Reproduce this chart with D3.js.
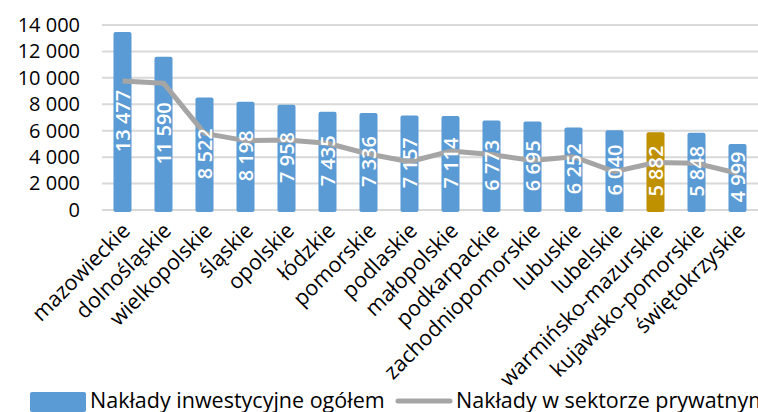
<!DOCTYPE html>
<html>
<head>
<meta charset="utf-8">
<script src="https://cdn.jsdelivr.net/npm/d3@7"></script>
<style>
  body { margin: 0; background: #fff; overflow: hidden; }
  text { font-family: "Open Sans", sans-serif; }
</style>
</head>
<body>
<div id="chart"></div>
<script>
// Voivodeships, sorted by total investment outlays
var regions = ["mazowieckie", "dolnośląskie", "wielkopolskie", "śląskie", "opolskie", "łódzkie",
  "pomorskie", "podlaskie", "małopolskie", "podkarpackie", "zachodniopomorskie", "lubuskie",
  "lubelskie", "warmińsko-mazurskie", "kujawsko-pomorskie", "świętokrzyskie"];
var totalOutlays = [13477, 11590, 8522, 8198, 7958, 7435, 7336, 7157, 7114, 6773, 6695, 6252,
  6040, 5882, 5848, 4999];
var privateOutlays = [9760, 9600, 5800, 5250, 5300, 5050, 4240, 3650, 4460, 4200, 3740, 4030,
  2900, 3590, 3530, 2780];
var yTicks = [0, 2000, 4000, 6000, 8000, 10000, 12000, 14000];
var highlighted = "warmińsko-mazurskie";
var seriesNames = ["Nakłady inwestycyjne ogółem", "Nakłady w sektorze prywatnym"];

var svgWidth = 758;
var svgHeight = 412;

var svg = d3.select("#chart")
  .append("svg")
  .attr("width", svgWidth)
  .attr("height", svgHeight);

var pl = d3.formatLocale({ decimal: ",", thousands: "\u00a0", grouping: [3], currency: ["", " zł"] });
var fmt = pl.format(",d");

var xScale = d3.scaleBand().domain(regions).range([102, 758]).paddingInner(0.56).paddingOuter(0.28);
var yScale = d3.scaleLinear().domain([0, 14000]).range([210, 25]);

// Gridlines
svg.append("g")
  .selectAll("line")
  .data(yTicks)
  .enter()
  .append("line")
  .attr("x1", 102)
  .attr("x2", 758)
  .attr("y1", function(d) { return yScale(d); })
  .attr("y2", function(d) { return yScale(d); })
  .attr("stroke", "#d9d9d9")
  .attr("stroke-width", 2);

// Y axis labels
var leftAxis = d3.axisLeft(yScale).tickValues(yTicks).tickFormat(fmt).tickSize(0).tickPadding(0);
var yAxis = svg.append("g").attr("transform", "translate(80,0)").call(leftAxis);
yAxis.select(".domain").remove();
yAxis.selectAll("text")
  .attr("font-size", "20px")
  .attr("fill", "#000")
  .style("font-family", "'Open Sans', sans-serif");

// Bars
svg.append("g")
  .selectAll("rect")
  .data(regions)
  .enter()
  .append("rect")
  .attr("x", function(d) { return xScale(d); })
  .attr("y", function(d, i) { return yScale(totalOutlays[i]); })
  .attr("width", xScale.bandwidth())
  .attr("height", function(d, i) { return yScale(0) - yScale(totalOutlays[i]) + 2; })
  .attr("rx", 2)
  .attr("fill", function(d) { return d === highlighted ? "#bf9000" : "#5b9bd5"; });

// Private sector line
var line = d3.line()
  .x(function(d, i) { return xScale(regions[i]) + xScale.bandwidth() / 2; })
  .y(function(d) { return yScale(d); });

svg.append("path")
  .datum(privateOutlays)
  .attr("d", line)
  .attr("fill", "none")
  .attr("stroke", "#a5a5a5")
  .attr("stroke-width", 5)
  .attr("stroke-linejoin", "round");

// Bar value labels
svg.append("g")
  .selectAll("text")
  .data(regions)
  .enter()
  .append("text")
  .attr("transform", function(d, i) {
    var cx = xScale(d) + xScale.bandwidth() / 2;
    var cy = (yScale(totalOutlays[i]) + yScale(0)) / 2;
    return "translate(" + cx + "," + cy + ") rotate(-90)";
  })
  .attr("text-anchor", "middle")
  .attr("dy", "0.35em")
  .attr("font-size", "20px")
  .attr("font-weight", 600)
  .attr("fill", "#fff")
  .text(function(d, i) { return fmt(totalOutlays[i]); });

// Category labels
svg.append("g")
  .selectAll("text")
  .data(regions)
  .enter()
  .append("text")
  .attr("transform", function(d) {
    var cx = xScale(d) + xScale.bandwidth() / 2 + 9;
    return "translate(" + cx + ",232) rotate(-45)";
  })
  .attr("text-anchor", "end")
  .attr("font-size", "21.5px")
  .attr("fill", "#000")
  .text(function(d) { return d; });

// Legend
var legend = svg.append("g");
legend.append("rect")
  .attr("x", 30).attr("y", 392).attr("width", 56).attr("height", 20)
  .attr("rx", 2)
  .attr("fill", "#5b9bd5");
legend.append("text")
  .attr("x", 90).attr("y", 408)
  .attr("font-size", "21.5px")
  .attr("fill", "#000")
  .text(seriesNames[0]);
legend.append("line")
  .attr("x1", 398).attr("x2", 450).attr("y1", 401).attr("y2", 401)
  .attr("stroke", "#a5a5a5").attr("stroke-width", 5).attr("stroke-linecap", "round");
legend.append("text")
  .attr("x", 456).attr("y", 408)
  .attr("font-size", "21.5px")
  .attr("fill", "#000")
  .text(seriesNames[1]);
</script>
</body>
</html>
